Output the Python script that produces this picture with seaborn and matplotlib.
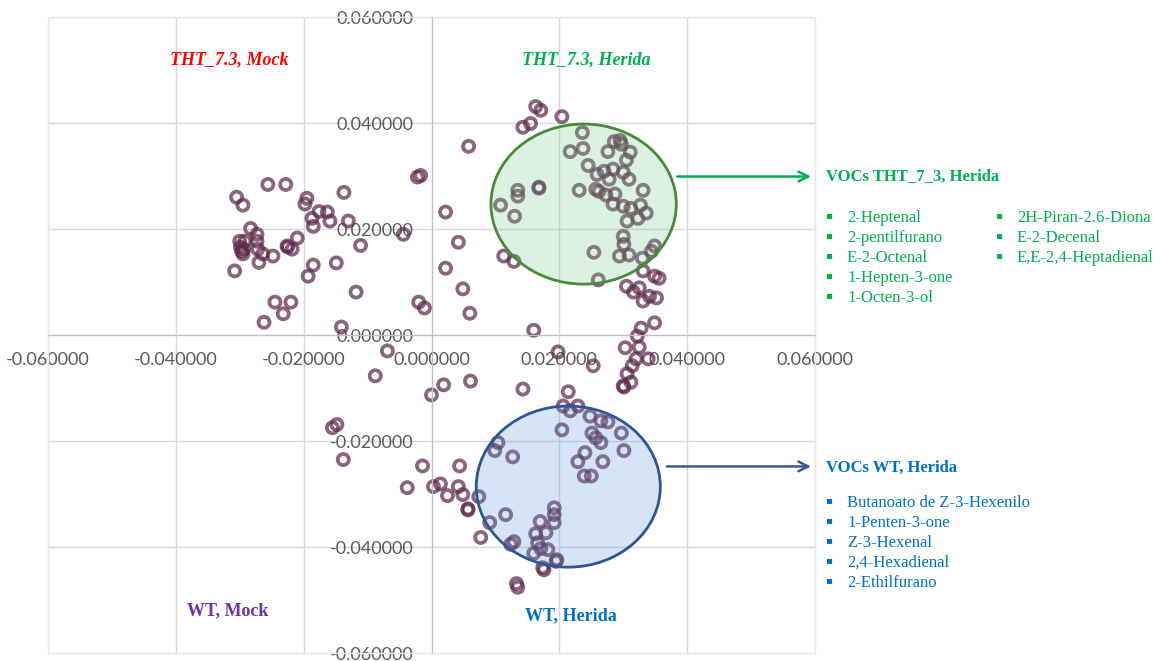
import matplotlib
matplotlib.use("Agg")
import matplotlib.pyplot as plt
from matplotlib.patches import Ellipse, Rectangle
from matplotlib.ticker import FormatStrFormatter
import pandas as pd
import seaborn as sns

# Sample scores on the first two components
pc1 = [
    # THT_7.3, Mock
    -0.0256, -0.0228, -0.0305, -0.0295, -0.0195, -0.0198, -0.0137, -0.0176, -0.0163, -0.0187,
    -0.0159, -0.0185, -0.0130, -0.0283, -0.0273, -0.0300, -0.0292, -0.0273, -0.0295, -0.0297,
    -0.0272, -0.0264, -0.0270, -0.0248, -0.0226, -0.0225, -0.0218, -0.0210, -0.0308, -0.0185,
    -0.0193, -0.0149, -0.0111, -0.0044, -0.0118, -0.0245, -0.0220, -0.0232, -0.0262, -0.0141,
    -0.0020, -0.0011, -0.0017, -0.0022, -0.0299, -0.0294,
    # upper centre
    0.0163, 0.0171, 0.0204, 0.0143, 0.0155, 0.0058, 0.0236, 0.0217, 0.0237, 0.0245,
    0.0135, 0.0135, 0.0168, 0.0168, 0.0231, 0.0108, 0.0130, 0.0022, 0.0042, 0.0022,
    0.0113, 0.0129, 0.0049, 0.0060,
    # THT_7.3, Herida
    0.0286, 0.0295, 0.0297, 0.0276, 0.0311, 0.0305, 0.0259, 0.0270, 0.0284, 0.0300,
    0.0278, 0.0309, 0.0257, 0.0262, 0.0273, 0.0287, 0.0331, 0.0284, 0.0300, 0.0312,
    0.0327, 0.0336, 0.0323, 0.0306, 0.0300, 0.0301, 0.0254, 0.0294, 0.0309, 0.0330,
    0.0344, 0.0349, 0.0261, 0.0331, 0.0349, 0.0356, 0.0305, 0.0325, 0.0316, 0.0341,
    0.0352, 0.0331, 0.0349, 0.0328, 0.0322, 0.0303, 0.0325, 0.0320, 0.0339, 0.0314,
    0.0306, 0.0312, 0.0300, 0.0301, 0.0253, 0.0214,
    # WT
    -0.0069, -0.0088, 0.0000, 0.0019, 0.0061, 0.0143, 0.0160, 0.0198, -0.0155, -0.0148,
    -0.0138, -0.0014, 0.0044, -0.0038, 0.0003, 0.0014, 0.0025, 0.0042, 0.0049, 0.0057,
    0.0057, 0.0074, 0.0091, 0.0077, 0.0104, 0.0099, 0.0127, 0.0116, 0.0129, 0.0124,
    0.0133, 0.0135, 0.0206, 0.0217, 0.0229, 0.0248, 0.0265, 0.0276, 0.0204, 0.0251,
    0.0257, 0.0265, 0.0297, 0.0301, 0.0240, 0.0229, 0.0268, 0.0239, 0.0250, 0.0192,
    0.0192, 0.0192, 0.0170, 0.0163, 0.0179, 0.0166, 0.0171, 0.0160, 0.0182, 0.0196,
    0.0195, 0.0176, 0.0174,
]
pc2 = [
    # THT_7.3, Mock
    0.0284, 0.0284, 0.0260, 0.0245, 0.0258, 0.0247, 0.0269, 0.0233, 0.0232, 0.0220,
    0.0215, 0.0205, 0.0215, 0.0201, 0.0190, 0.0177, 0.0177, 0.0177, 0.0153, 0.0158,
    0.0162, 0.0153, 0.0137, 0.0149, 0.0168, 0.0166, 0.0162, 0.0183, 0.0121, 0.0132,
    0.0111, 0.0136, 0.0169, 0.0190, 0.0081, 0.0062, 0.0062, 0.0040, 0.0024, 0.0015,
    0.0062, 0.0051, 0.0301, 0.0298, 0.0166, 0.0162,
    # upper centre
    0.0431, 0.0424, 0.0412, 0.0392, 0.0399, 0.0356, 0.0382, 0.0346, 0.0352, 0.0320,
    0.0273, 0.0262, 0.0279, 0.0277, 0.0273, 0.0245, 0.0224, 0.0232, 0.0175, 0.0126,
    0.0149, 0.0139, 0.0087, 0.0041,
    # THT_7.3, Herida
    0.0365, 0.0367, 0.0360, 0.0346, 0.0345, 0.0330, 0.0303, 0.0309, 0.0313, 0.0307,
    0.0294, 0.0294, 0.0275, 0.0271, 0.0264, 0.0266, 0.0273, 0.0247, 0.0243, 0.0239,
    0.0245, 0.0230, 0.0220, 0.0215, 0.0186, 0.0171, 0.0156, 0.0149, 0.0151, 0.0145,
    0.0158, 0.0168, 0.0104, 0.0121, 0.0111, 0.0107, 0.0092, 0.0089, 0.0081, 0.0073,
    0.0070, 0.0064, 0.0023, 0.0013, -0.0002, -0.0024, -0.0023, -0.0045, -0.0045, -0.0058,
    -0.0073, -0.0089, -0.0096, -0.0098, -0.0058, -0.0107,
    # WT
    -0.0030, -0.0077, -0.0113, -0.0094, -0.0087, -0.0102, 0.0009, -0.0032, -0.0175, -0.0169,
    -0.0235, -0.0247, -0.0247, -0.0288, -0.0286, -0.0281, -0.0303, -0.0286, -0.0301, -0.0328,
    -0.0330, -0.0305, -0.0354, -0.0382, -0.0203, -0.0218, -0.0230, -0.0339, -0.0390, -0.0395,
    -0.0469, -0.0476, -0.0134, -0.0143, -0.0134, -0.0153, -0.0162, -0.0164, -0.0179, -0.0185,
    -0.0194, -0.0203, -0.0185, -0.0218, -0.0222, -0.0239, -0.0239, -0.0266, -0.0266, -0.0326,
    -0.0339, -0.0354, -0.0352, -0.0375, -0.0373, -0.0392, -0.0403, -0.0412, -0.0405, -0.0424,
    -0.0427, -0.0443, -0.0439,
]

axis_ticks = [-0.06, -0.04, -0.02, 0.0, 0.02, 0.04, 0.06]

quadrant_labels = ["THT_7.3, Mock", "THT_7.3, Herida", "WT, Mock", "WT, Herida"]

group_titles = ["VOCs THT_7_3, Herida", "VOCs WT, Herida"]
tht_vocs_col1 = ["2-Heptenal", "2-pentilfurano", "E-2-Octenal", "1-Hepten-3-one", "1-Octen-3-ol"]
tht_vocs_col2 = ["2H-Piran-2.6-Diona", "E-2-Decenal", "E,E-2,4-Heptadienal"]
wt_vocs = ["Butanoato de Z-3-Hexenilo", "1-Penten-3-one", "Z-3-Hexenal", "2,4-Hexadienal", "2-Ethilfurano"]

# group ellipses: centre x, centre y, width, height
tht_ellipse = (0.0238, 0.0247, 0.0290, 0.0302)
wt_ellipse = (0.0214, -0.0286, 0.0288, 0.0304)

GREEN = "#00b050"
RED = "#ff0000"
PURPLE = "#7030a0"
BLUE = "#0070c0"
SERIF = ["Liberation Serif", "DejaVu Serif"]

sns.set_style("white")
plt.rcParams["font.family"] = ["Lato", "DejaVu Sans"]

df = pd.DataFrame({"pc1": pc1, "pc2": pc2})

W, H = 1154, 661
fig = plt.figure(figsize=(W / 100, H / 100), dpi=100)
ax = fig.add_axes([48 / W, 1 - 653 / H, (815 - 48) / W, (653 - 17) / H])

sns.scatterplot(data=df, x="pc1", y="pc2", ax=ax, s=64, marker="o",
                color="#5e2a4c", linewidth=2.7, alpha=0.72, zorder=2, legend=False)
for coll in ax.collections:
    coll.set_facecolor("none")
    coll.set_edgecolor((0.37, 0.165, 0.30, 0.70))

ax.set_xlim(axis_ticks[0], axis_ticks[-1])
ax.set_ylim(axis_ticks[0], axis_ticks[-1])
ax.set_xticks(axis_ticks)
ax.set_yticks(axis_ticks)
ax.xaxis.set_major_formatter(FormatStrFormatter("%.6f"))
ax.yaxis.set_major_formatter(FormatStrFormatter("%.6f"))
ax.set_xlabel("")
ax.set_ylabel("")

ax.grid(True, color="#d9d9d9", linewidth=1.0, zorder=0)
ax.set_axisbelow(True)

# axes cross at the origin
ax.spines["left"].set_position(("data", 0))
ax.spines["bottom"].set_position(("data", 0))
ax.spines["left"].set_color("#bfbfbf")
ax.spines["bottom"].set_color("#bfbfbf")
ax.spines["top"].set_visible(False)
ax.spines["right"].set_visible(False)
ax.tick_params(axis="both", length=0, labelsize=13, labelcolor="#595959")
ax.tick_params(axis="x", pad=12)
ax.tick_params(axis="y", pad=13)

# plot frame
ax.add_patch(Rectangle((0, 0), 1, 1, transform=ax.transAxes, fill=False,
                       edgecolor="#e3eaf2", linewidth=1.0, clip_on=False, zorder=1))

# group ellipses (drawn over the points)
ex, ey, ew, eh = tht_ellipse
ax.add_patch(Ellipse((ex, ey), ew, eh, facecolor=(0.45, 0.80, 0.55, 0.25),
                     edgecolor="#4a8a3c", linewidth=2.0, zorder=3))
bx, by, bw, bh = wt_ellipse
ax.add_patch(Ellipse((bx, by), bw, bh, facecolor=(0.35, 0.60, 0.85, 0.25),
                     edgecolor="#2f5597", linewidth=2.0, zorder=3))

# arrows to the VOC lists
ax.annotate("", xy=(0.0598, 0.0299), xytext=(0.0380, 0.0299),
            arrowprops=dict(arrowstyle="->,head_length=0.7,head_width=0.35",
                            color=GREEN, lw=1.8), zorder=4)
ax.annotate("", xy=(0.0598, -0.0248), xytext=(0.0364, -0.0248),
            arrowprops=dict(arrowstyle="->,head_length=0.7,head_width=0.35",
                            color="#3b5998", lw=1.8), zorder=4)

# quadrant labels
ax.text(-0.0316, 0.0520, quadrant_labels[0], color=RED, fontsize=13, fontweight="bold",
        fontstyle="italic", family=SERIF, ha="center", va="center")
ax.text(0.0242, 0.0520, quadrant_labels[1], color=GREEN, fontsize=13, fontweight="bold",
        fontstyle="italic", family=SERIF, ha="center", va="center")
ax.text(-0.0319, -0.0521, quadrant_labels[2], color=PURPLE, fontsize=13, fontweight="bold",
        family=SERIF, ha="center", va="center")
ax.text(0.0218, -0.0529, quadrant_labels[3], color=BLUE, fontsize=13, fontweight="bold",
        family=SERIF, ha="center", va="center")


def fx(px):
    return px / W


def fy(py):
    return 1 - py / H


BULLET_FAMILY = ["DejaVu Sans"]
BULLET_LIFT = 3  # the square glyph sits on the baseline, so raise it to mid-line

# VOC lists beside the plot
fig.text(fx(826), fy(177), group_titles[0], color=GREEN, fontsize=12, fontweight="bold",
         family=SERIF, ha="left", va="center")
for i, name in enumerate(tht_vocs_col1):
    yy = 218 + 20 * i
    fig.text(fx(829), fy(yy - BULLET_LIFT), "\u25aa", color=GREEN, fontsize=7.5,
             family=BULLET_FAMILY, ha="center", va="center")
    fig.text(fx(847), fy(yy), name, color=GREEN, fontsize=12, family=SERIF,
             ha="left", va="center")
for i, name in enumerate(tht_vocs_col2):
    yy = 218 + 20 * i
    fig.text(fx(999), fy(yy - BULLET_LIFT), "\u25aa", color=GREEN, fontsize=7.5,
             family=BULLET_FAMILY, ha="center", va="center")
    fig.text(fx(1017), fy(yy), name, color=GREEN, fontsize=12, family=SERIF,
             ha="left", va="center")

fig.text(fx(826), fy(468), group_titles[1], color=BLUE, fontsize=12, fontweight="bold",
         family=SERIF, ha="left", va="center")
for i, name in enumerate(wt_vocs):
    yy = 503 + 20 * i
    fig.text(fx(829), fy(yy - BULLET_LIFT), "\u25aa", color=BLUE, fontsize=7.5,
             family=BULLET_FAMILY, ha="center", va="center")
    fig.text(fx(847), fy(yy), name, color=BLUE, fontsize=12, family=SERIF,
             ha="left", va="center")

fig.savefig("out.png", dpi=100, facecolor="white")
